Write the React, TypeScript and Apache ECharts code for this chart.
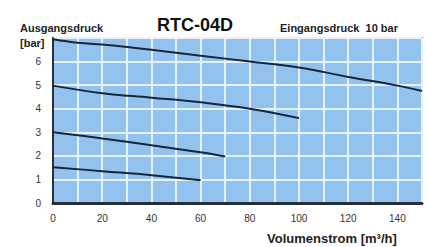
import React, { useEffect, useRef } from "react";
import * as echarts from "echarts";

const xTicks = [0, 20, 40, 60, 80, 100, 120, 140];
const yTicks = [0, 1, 2, 3, 4, 5, 6];

const curve1: [number, number][] = [
  [0, 6.95], [10, 6.8], [20, 6.72], [40, 6.5], [60, 6.25], [80, 6.0], [100, 5.75], [120, 5.35], [140, 4.98], [150, 4.75],
];
const curve2: [number, number][] = [
  [0, 4.98], [20, 4.66], [40, 4.47], [60, 4.27], [80, 4.0], [100, 3.6],
];
const curve3: [number, number][] = [
  [0, 3.0], [20, 2.74], [40, 2.45], [60, 2.15], [70, 1.97],
];
const curve4: [number, number][] = [
  [0, 1.52], [20, 1.35], [40, 1.18], [60, 0.97],
];

const lineColor = "#17263a";

export default function App() {
  const ref = useRef<HTMLDivElement>(null);
  useEffect(() => {
    if (!ref.current) return;
    const chart = echarts.init(ref.current, null, { renderer: "svg" });
    const mk = (d: [number, number][]) => ({
      type: "line",
      data: d,
      smooth: 0.4,
      showSymbol: false,
      lineStyle: { color: lineColor, width: 2 },
      z: 5,
    });
    chart.setOption({
      animation: false,
      backgroundColor: "#ffffff",
      grid: {
        left: 53,
        right: 8,
        top: 38,
        bottom: 44,
        show: true,
        backgroundColor: "#94c2ee",
        borderColor: "#2a3440",
        borderWidth: 1.5,
      },
      xAxis: {
        type: "value",
        min: 0,
        max: 150,
        interval: 10,
        axisLine: { show: true, onZero: false, lineStyle: { color: "#2a2f36", width: 3 } },
        axisTick: { show: false },
        splitLine: { show: true, lineStyle: { color: "#e6f2ff", width: 2 } },
        axisLabel: {
          margin: 10,
          fontSize: 10,
          fontFamily: "Liberation Sans, Arial, sans-serif",
          color: "#333",
          formatter: (v: number) => (xTicks.includes(v) ? String(v) : ""),
        },
      },
      yAxis: {
        type: "value",
        min: 0,
        max: 7,
        interval: 1,
        axisLine: { show: true, onZero: false, lineStyle: { color: "#2a2f36", width: 2 } },
        axisTick: { show: false },
        splitLine: { show: true, lineStyle: { color: "#e6f2ff", width: 2 } },
        axisLabel: {
          margin: 12,
          fontSize: 10,
          fontFamily: "Liberation Sans, Arial, sans-serif",
          color: "#333",
          formatter: (v: number) => (yTicks.includes(v) ? String(v) : ""),
        },
      },
      graphic: [
        {
          type: "text",
          left: 20,
          top: 22,
          style: { text: "Ausgangsdruck", font: "bold 11px Liberation Sans, Arial, sans-serif", fill: "#222" },
        },
        {
          type: "text",
          left: 20,
          top: 37,
          style: { text: "[bar]", font: "bold 11px Liberation Sans, Arial, sans-serif", fill: "#222" },
        },
        {
          type: "text",
          left: 157,
          top: 16,
          style: { text: "RTC-04D", font: "bold 18px Liberation Sans, Arial, sans-serif", fill: "#111" },
        },
        {
          type: "text",
          left: 280,
          top: 22,
          style: { text: "Eingangsdruck  10 bar", font: "bold 11px Liberation Sans, Arial, sans-serif", fill: "#222" },
        },
        {
          type: "text",
          left: 267,
          top: 232,
          style: { text: "Volumenstrom [m³/h]", font: "bold 13px Liberation Sans, Arial, sans-serif", fill: "#222" },
        },
      ],
      series: [mk(curve1), mk(curve2), mk(curve3), mk(curve4)],
    });
    return () => chart.dispose();
  }, []);
  return <div ref={ref} style={{ width: 430, height: 247, position: "absolute", left: 0, top: 0 }} />;
}
